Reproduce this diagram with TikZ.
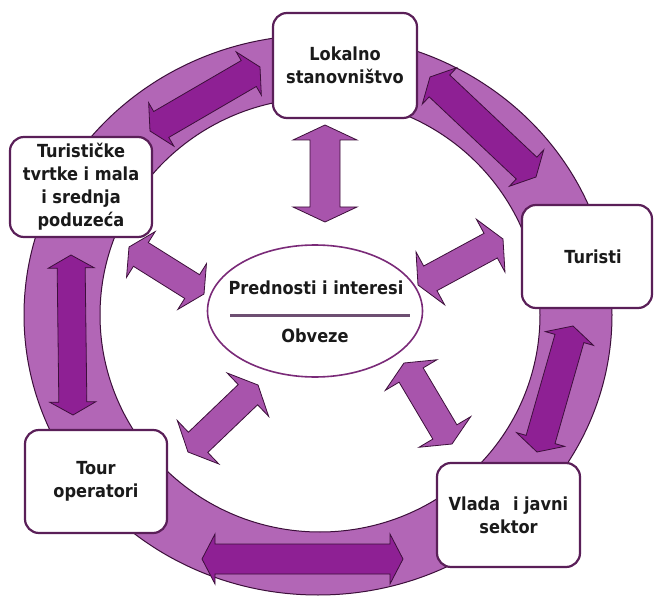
\documentclass[tikz,border=0pt]{standalone}
\usepackage{fontspec}
\newfontfamily\lblfont{DejaVu Sans Condensed}
\usetikzlibrary{calc,shapes.geometric}
\definecolor{ringc}{HTML}{B266B6}
\definecolor{outarr}{HTML}{8E2094}
\definecolor{outlight}{HTML}{A23CA8}
\definecolor{inarr}{HTML}{A854AC}
\definecolor{edgec}{HTML}{3C0F3A}
\definecolor{boxc}{HTML}{5A1F58}
\definecolor{ellc}{HTML}{7A2A78}
\definecolor{linec}{HTML}{6E4F72}
\definecolor{txtc}{HTML}{1A1A1A}
% #1 style, #2 tip A, #3 tip B, #4 shaft half width, #5 head half width, #6 head length
\newcommand{\blockarr}[6]{%
  \coordinate (#2h) at ($(#2)!#6!(#3)$);
  \coordinate (#3h) at ($(#3)!#6!(#2)$);
  \path[#1] (#2) -- ($(#2h)!#5!90:(#3)$) -- ($(#2h)!#4!90:(#3)$)
    -- ($(#3h)!#4!-90:(#2)$) -- ($(#3h)!#5!-90:(#2)$) -- (#3)
    -- ($(#3h)!#5!90:(#2)$) -- ($(#3h)!#4!90:(#2)$)
    -- ($(#2h)!#4!-90:(#3)$) -- ($(#2h)!#5!-90:(#3)$) -- cycle;
}
\tikzset{
  stake/.style={draw=boxc, line width=2.2pt, fill=white, rounded corners=14pt,
    align=center, text=txtc, font=\lblfont\bfseries\fontsize{18}{23}\selectfont, inner sep=0pt},
  outerarrow/.style={fill=outarr, draw=edgec, line width=0.8pt, line join=miter},
  innerarrow/.style={fill=inarr, draw=edgec, line width=0.8pt, line join=miter},
  lbl/.style={text=txtc, font=\lblfont\bfseries\fontsize{18}{23}\selectfont, inner sep=0pt}
}
\begin{document}
\begin{tikzpicture}[x=1pt,y=-1pt]
\useasboundingbox (0,0) rectangle (654,599);
\clip (0,0) rectangle (654,599);
\fill[white] (0,0) rectangle (654,599);
% ring
\fill[ringc,even odd rule] (318,315) ellipse [x radius=294pt,y radius=280pt]
                           (320,315) ellipse [x radius=220pt,y radius=217pt];
\draw[edgec,line width=1pt] (318,315) ellipse [x radius=294pt,y radius=280pt];
\draw[edgec,line width=1pt] (320,315) ellipse [x radius=220pt,y radius=217pt];
% arrow ends
\coordinate (a1s) at (150,131); \coordinate (a1e) at (260,67);
\coordinate (a2s) at (430,77);  \coordinate (a2e) at (536,177);
\coordinate (a3s) at (573,326); \coordinate (a3e) at (537,452);
\coordinate (a4s) at (202,559); \coordinate (a4e) at (403,559);
\coordinate (a5s) at (71,255);  \coordinate (a5e) at (73,415);
\coordinate (b1s) at (325,125); \coordinate (b1e) at (325,222);
\coordinate (b2s) at (129,247); \coordinate (b2e) at (204,294);
\coordinate (b3s) at (503,239); \coordinate (b3e) at (418,285);
\coordinate (b4s) at (188,452); \coordinate (b4e) at (258,385);
\coordinate (b5s) at (404,363); \coordinate (b5e) at (452,444);
% outer arrows
\blockarr{outerarrow}{a1s}{a1e}{15pt}{25pt}{13pt}
\blockarr{outerarrow}{a2s}{a2e}{15pt}{25pt}{13pt}
\blockarr{outerarrow}{a3s}{a3e}{15pt}{25pt}{13pt}
\blockarr{outerarrow}{a4s}{a4e}{15pt}{25pt}{13pt}
\blockarr{outerarrow}{a5s}{a5e}{14pt}{23pt}{13pt}
% stakeholder boxes
\node[stake, minimum width=144pt, minimum height=105pt] (lok) at (345,65.5) {Lokalno\\stanovništvo};
\node[stake, minimum width=142pt, minimum height=100pt] (tvr) at (81,187) {Turističke\\tvrtke i mala\\i srednja\\poduzeća};
\node[stake, minimum width=130pt, minimum height=103pt] (tur) at (587,256.5) {\hspace*{12pt}Turisti};
\node[stake, minimum width=142pt, minimum height=103pt] (tou) at (96,481.5) {Tour\\operatori};
\node[stake, minimum width=143pt, minimum height=104pt] (vla) at (508.5,515) {Vlada\hspace{0.4em} i javni\\sektor};
% inner arrows
\blockarr{innerarrow}{b1s}{b1e}{15pt}{32pt}{15pt}
\blockarr{innerarrow}{b2s}{b2e}{14pt}{27pt}{14pt}
\blockarr{innerarrow}{b3s}{b3e}{14pt}{30pt}{14pt}
\blockarr{innerarrow}{b4s}{b4e}{14pt}{30pt}{14pt}
\blockarr{innerarrow}{b5s}{b5e}{14pt}{30pt}{14pt}
% centre
\node[ellipse, draw=ellc, line width=1.6pt, fill=white, minimum width=215pt, minimum height=132pt] (cen) at (315,311) {};
\coordinate (ll) at (230,315); \coordinate (lr) at (410,315);
\draw[linec, line width=3pt] (ll) -- (lr);
\node[lbl] (pre) at (316,288) {Prednosti i interesi};
\node[lbl] (obv) at (315,336) {Obveze};
\end{tikzpicture}
\end{document}
